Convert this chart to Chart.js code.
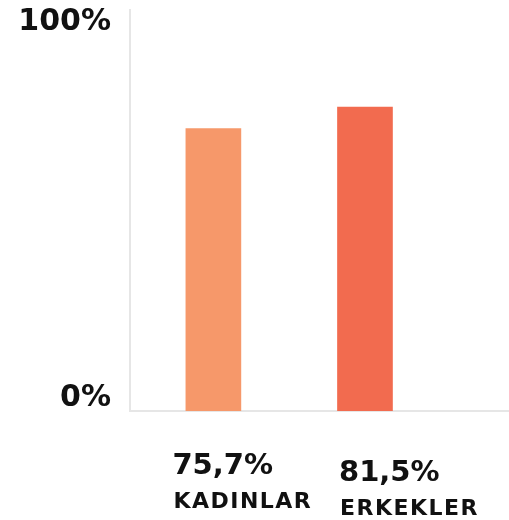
<!DOCTYPE html>
<html><head><meta charset="utf-8">
<script src="https://cdn.jsdelivr.net/npm/chart.js@4"></script>
<style>html,body{margin:0;padding:0;background:#fff}#w{width:509px;height:520px}</style>
</head><body><div id="w"><canvas id="c"></canvas></div>
<script>
const categories = ['KADINLAR', 'ERKEKLER'];
const values = [75.7, 81.5];
const valueLabels = ['75,7%', '81,5%'];
const barColors = ['#F6986A', '#F26B4F'];
const yTickValues = [0, 100];
const yTickLabels = ['0%', '100%'];

const FONT = '"DejaVu Sans", sans-serif';
const labelPlugin = {
  id: 'customLabels',
  afterDraw(chart) {
    const ctx = chart.ctx, xs = chart.scales.x, ys = chart.scales.y;
    ctx.save();
    ctx.fillStyle = '#111';
    ctx.textBaseline = 'middle';
    // y tick labels
    ctx.textAlign = 'right';
    ctx.font = 'bold 30px ' + FONT;
    const yOff = [-13, -16];
    yTickValues.forEach((v, i) => {
      ctx.fillText(yTickLabels[i], 111, ys.getPixelForValue(v) + yOff[i]);
    });
    // category labels
    ctx.textAlign = 'left';
    const offs = [{dx: -41, y1: 466, dy2: 36}, {dx: -26, y1: 473, dy2: 36}];
    categories.forEach((c, i) => {
      const cx = xs.getPixelForValue(i + 0.55);
      ctx.font = 'bold 29px ' + FONT;
      ctx.letterSpacing = '0px';
      ctx.fillText(valueLabels[i], cx + offs[i].dx, offs[i].y1);
      ctx.font = 'bold 22px ' + FONT;
      ctx.letterSpacing = '1.5px';
      ctx.fillText(c, cx + offs[i].dx + 1, offs[i].y1 + offs[i].dy2);
    });
    ctx.restore();
  }
};

new Chart(document.getElementById('c'), {
  type: 'bar',
  data: {
    datasets: [{
      data: values.map((v, i) => ({x: i + 0.55, y: v})),
      backgroundColor: barColors,
      barThickness: 55,
      borderWidth: 0
    }]
  },
  options: {
    responsive: true, maintainAspectRatio: false, animation: false,
    layout: {padding: {top: 10, right: 0, left: 0, bottom: 0}},
    plugins: {legend: {display: false}, tooltip: {enabled: false}},
    scales: {
      x: {
        type: 'linear', min: 0, max: 2.5, offset: false,
        grid: {display: false, drawTicks: false},
        border: {color: '#e6e6e6', width: 2},
        ticks: {display: false},
        afterFit(s) { s.height = 109; }
      },
      y: {
        min: 0, max: 107.5,
        grid: {display: false, drawTicks: false},
        border: {color: '#e6e6e6', width: 2},
        ticks: {display: false},
        afterFit(s) { s.width = 130; }
      }
    }
  },
  plugins: [labelPlugin]
});
</script></body></html>
